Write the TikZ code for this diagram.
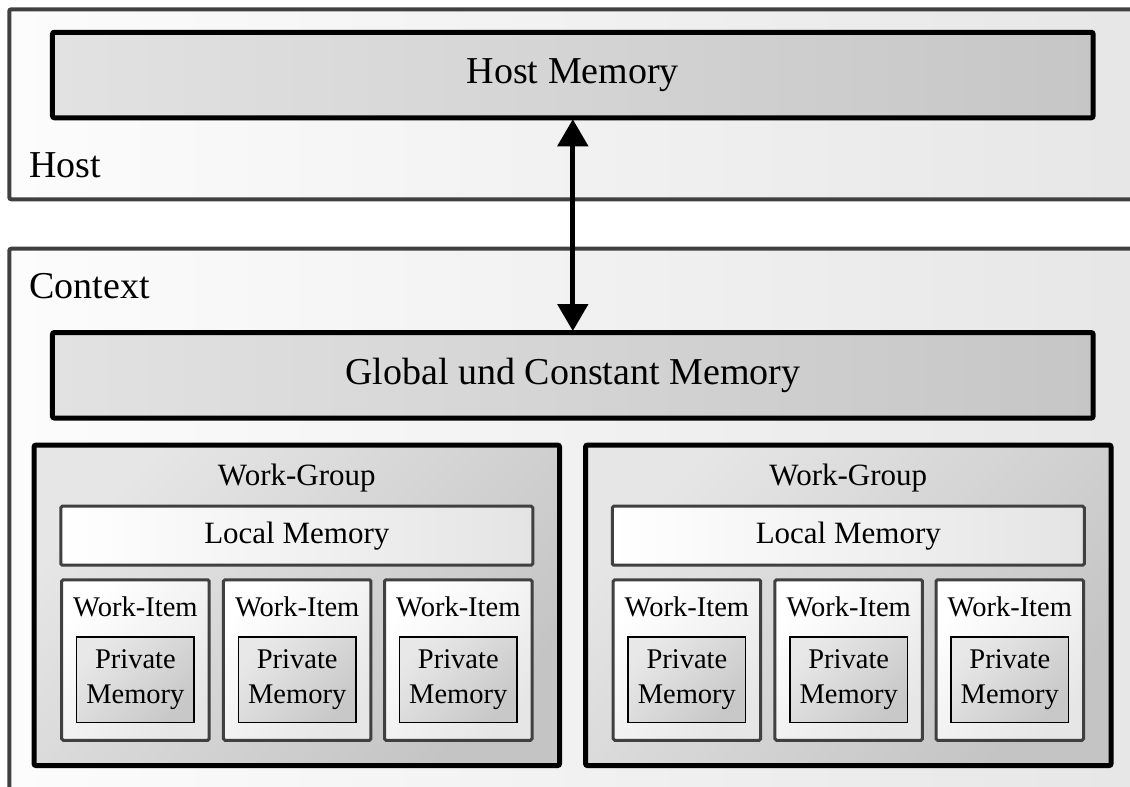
\documentclass[tikz,border=0pt]{standalone}
\usepackage{fontspec}
\setmainfont{Liberation Serif}
\usetikzlibrary{arrows.meta}
\definecolor{framegray}{HTML}{404040}
\definecolor{outerL}{HTML}{FCFCFC}
\definecolor{outerR}{HTML}{E6E6E6}
\definecolor{memL}{HTML}{E2E2E2}
\definecolor{memR}{HTML}{C6C6C6}
\definecolor{wgL}{HTML}{E6E6E6}
\definecolor{wgR}{HTML}{C4C4C4}
\definecolor{locL}{HTML}{FFFFFF}
\definecolor{locR}{HTML}{E4E4E4}
\definecolor{wiL}{HTML}{FFFFFF}
\definecolor{wiR}{HTML}{E6E6E6}
\definecolor{pmL}{HTML}{E8E8E8}
\definecolor{pmR}{HTML}{C8C8C8}
\begin{document}
\begin{tikzpicture}[x=1pt,y=-1pt,
  every node/.style={inner sep=0pt,outer sep=0pt},
  outerbox/.style={draw=framegray,line width=4pt,rounded corners=2pt,left color=outerL,right color=outerR,anchor=north west},
  membox/.style={draw=black,line width=5pt,rounded corners=2pt,left color=memL,right color=memR,
    minimum width=1040.7pt,minimum height=85.5pt,font=\fontsize{38}{46}\selectfont},
  wgbox/.style={draw=black,line width=5pt,rounded corners=2pt,left color=wgL,right color=wgR,shading angle=45,
    minimum width=525.5pt,minimum height=320.5pt},
  locbox/.style={draw=framegray,line width=3pt,rounded corners=1.5pt,left color=locL,right color=locR,
    minimum width=472pt,minimum height=59pt,font=\fontsize{31}{37}\selectfont},
  wibox/.style={draw=framegray,line width=3pt,rounded corners=1.5pt,left color=wiL,right color=wiR,shading angle=45,
    minimum width=147.5pt,minimum height=160.5pt},
  pmbox/.style={draw=black,line width=1.6pt,left color=pmL,right color=pmR,shading angle=45,
    minimum width=117.5pt,minimum height=85.5pt,align=center,font=\fontsize{28.5}{35.7}\selectfont},
  bigtext/.style={font=\fontsize{38}{46}\selectfont,anchor=base west},
  wgtext/.style={font=\fontsize{31}{37}\selectfont,anchor=base},
  witext/.style={font=\fontsize{28.5}{34}\selectfont,anchor=base},
  dblarrow/.style={line width=5pt,{Triangle[width=30pt,length=27pt]}-{Triangle[width=30pt,length=27pt]},shorten <=1.5pt,shorten >=1.5pt}
]
\clip (0,0) rectangle (1130,787);
% Host
\node[outerbox,minimum width=1160pt,minimum height=190pt] (host) at (9.3,9.3) {};
\node[bigtext] (hostlbl) at (29.3,177.5) {Host};
\node[membox] (hm) at (572.8,75) {Host Memory};
% Context
\node[outerbox,minimum width=1160pt,minimum height=600pt] (ctx) at (9.3,248.7) {};
\node[bigtext] (ctxlbl) at (29.3,298.3) {Context};
\node[membox] (gm) at (572.8,375.3) {Global und Constant Memory};
% Work-Groups
\foreach \g/\dx in {1/0,2/551.5}{
  \node[wgbox] (wg\g) at (296.8+\dx,605.3) {};
  \node[wgtext] (wg\g t) at (296.8+\dx,485) {Work-Group};
  \node[locbox] (lm\g) at (296.8+\dx,535.7) {Local Memory};
  \foreach \i/\x in {1/135.4,2/297.2,3/458.3}{
    \node[wibox] (wi\g\i) at (\x+\dx,660) {};
    \node[witext] (wi\g\i t) at (\x+\dx,616) {Work-Item};
    \node[pmbox] (pm\g\i) at (\x+\dx,679.7) {Private\\Memory};
  }
}
% Arrow
\draw[dblarrow] (hm.south) -- (gm.north);
\end{tikzpicture}
\end{document}
